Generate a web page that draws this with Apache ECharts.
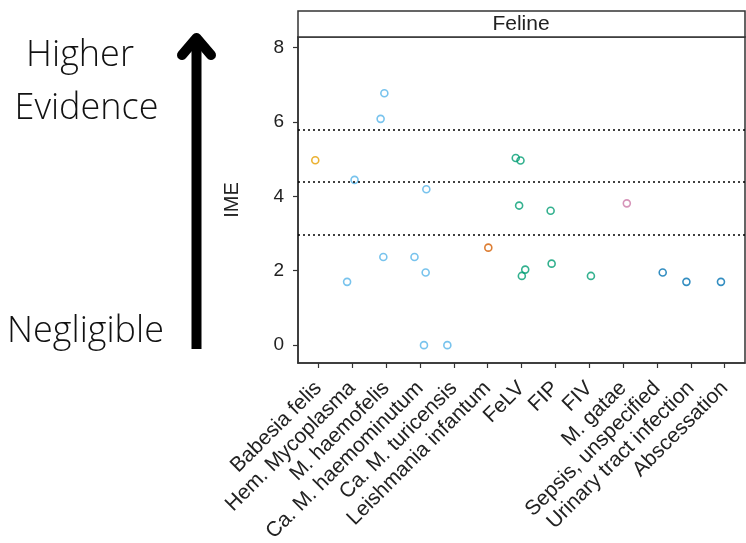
<!DOCTYPE html>
<html>
<head>
<meta charset="utf-8">
<script src="https://cdn.jsdelivr.net/npm/echarts@6.0.0/dist/echarts.min.js"></script>
<style>
  html, body { margin: 0; padding: 0; background: #fff; }
  #chart { width: 746px; height: 543px; }
</style>
</head>
<body>
<div id="chart"></div>
<script>
// categories on the x axis
var categories = ['Babesia felis', 'Hem. Mycoplasma', 'M. haemofelis', 'Ca. M. haemominutum',
  'Ca. M. turicensis', 'Leishmania infantum', 'FeLV', 'FIP', 'FIV', 'M. gatae',
  'Sepsis, unspecified', 'Urinary tract infection', 'Abscessation'];
var yTicks = [0, 2, 4, 6, 8];
var thresholds = [2.96, 4.38, 5.78];

// points (x = category index + jitter, y = IME)
var babesiaX = [-0.09];
var babesiaY = [4.97];
var mycoX = [0.85, 1.07, 1.84, 1.95, 1.92, 2.84, 3.17, 3.19, 3.12, 3.81];
var mycoY = [1.70, 4.44, 6.08, 6.77, 2.37, 2.37, 1.95, 4.19, 0, 0];
var leishX = [5.02];
var leishY = [2.62];
var viralX = [5.83, 5.97, 5.93, 6.01, 6.11, 6.86, 6.89, 8.05];
var viralY = [5.03, 4.96, 3.75, 1.86, 2.03, 3.61, 2.19, 1.86];
var gataeX = [9.11];
var gataeY = [3.81];
var bactX = [10.17, 10.87, 11.89];
var bactY = [1.95, 1.70, 1.70];

var myChart = echarts.init(document.getElementById('chart'));

function pts(xs, ys) {
  return xs.map(function (x, i) { return [x, ys[i]]; });
}

function scatter(name, xs, ys, color) {
  return {
    name: name,
    type: 'scatter',
    symbol: 'circle',
    symbolSize: 7,
    data: pts(xs, ys),
    itemStyle: { color: 'rgba(255,255,255,0)', borderColor: color, borderWidth: 1.6 },
    silent: true
  };
}

var catIdx = categories.map(function (c, i) { return i; });

var series = [
  scatter('Babesia', babesiaX, babesiaY, '#E69F00'),
  scatter('Mycoplasma', mycoX, mycoY, '#56B4E9'),
  scatter('Leishmania', leishX, leishY, '#D55E00'),
  scatter('Viral', viralX, viralY, '#009E73'),
  scatter('M. gatae', gataeX, gataeY, '#CC79A7'),
  scatter('Bacterial', bactX, bactY, '#0072B2')
];
// dotted threshold lines
series[0].markLine = {
  silent: true,
  symbol: 'none',
  label: { show: false },
  lineStyle: { color: '#000', type: [2, 3], width: 1.5 },
  data: thresholds.map(function (t) { return { yAxis: t }; })
};

var option = {
  animation: false,
  backgroundColor: '#fff',
  grid: {
    left: 298, right: 1, top: 37, bottom: 180,
    outerBoundsMode: 'none',
    containLabel: false,
    show: true, borderColor: '#333', borderWidth: 1.5, backgroundColor: '#fff'
  },
  xAxis: {
    type: 'value',
    min: -0.6,
    max: 12.6,
    splitLine: { show: false },
    axisLine: { onZero: false, lineStyle: { color: '#333', width: 1.5 } },
    axisTick: { customValues: catIdx, length: 5, lineStyle: { color: '#333', width: 1.2 } },
    axisLabel: {
      customValues: catIdx,
      rotate: 45,
      margin: 22,
      fontFamily: 'Liberation Sans, Arial',
      fontSize: 21,
      color: '#222',
      formatter: function (v) { return categories[Math.round(v)]; }
    }
  },
  yAxis: {
    type: 'value',
    min: -0.48,
    max: 8.28,
    name: 'IME',
    nameLocation: 'middle',
    nameGap: 56,
    nameTextStyle: { fontFamily: 'Liberation Sans, Arial', fontSize: 20, color: '#222' },
    splitLine: { show: false },
    axisLine: { onZero: false, lineStyle: { color: '#333', width: 1.5 } },
    axisTick: { customValues: yTicks, length: 5, lineStyle: { color: '#333', width: 1.2 } },
    axisLabel: {
      customValues: yTicks,
      margin: 14,
      fontFamily: 'Liberation Sans, Arial',
      fontSize: 19,
      color: '#222'
    }
  },
  graphic: [
    // facet strip
    { type: 'rect', shape: { x: 298, y: 11, width: 447, height: 26 },
      style: { fill: '#fff', stroke: '#333', lineWidth: 1.5 }, z: 10 },
    { type: 'text', x: 521, y: 24, z: 11,
      style: { text: 'Feline', fontFamily: 'Liberation Sans, Arial', fontSize: 21, fill: '#222',
        align: 'center', verticalAlign: 'middle' } },
    // arrow
    { type: 'rect', shape: { x: 191.5, y: 42, width: 10, height: 307 }, style: { fill: '#000' } },
    { type: 'polyline', shape: { points: [[182, 55], [196.5, 38], [211, 55]] },
      style: { stroke: '#000', lineWidth: 10, lineCap: 'round', lineJoin: 'round', fill: null } },
    // side labels
    { type: 'text', x: 80, y: 56,
      style: { text: 'Higher', fontFamily: 'Open Sans', fontWeight: 300, fontSize: 36, fill: '#111',
        align: 'center', verticalAlign: 'middle' } },
    { type: 'text', x: 86.5, y: 109,
      style: { text: 'Evidence', fontFamily: 'Open Sans', fontWeight: 300, fontSize: 36, fill: '#111',
        align: 'center', verticalAlign: 'middle' } },
    { type: 'text', x: 85.5, y: 332,
      style: { text: 'Negligible', fontFamily: 'Open Sans', fontWeight: 300, fontSize: 36, fill: '#111',
        align: 'center', verticalAlign: 'middle' } }
  ],
  series: series
};

myChart.setOption(option);
</script>
</body>
</html>
